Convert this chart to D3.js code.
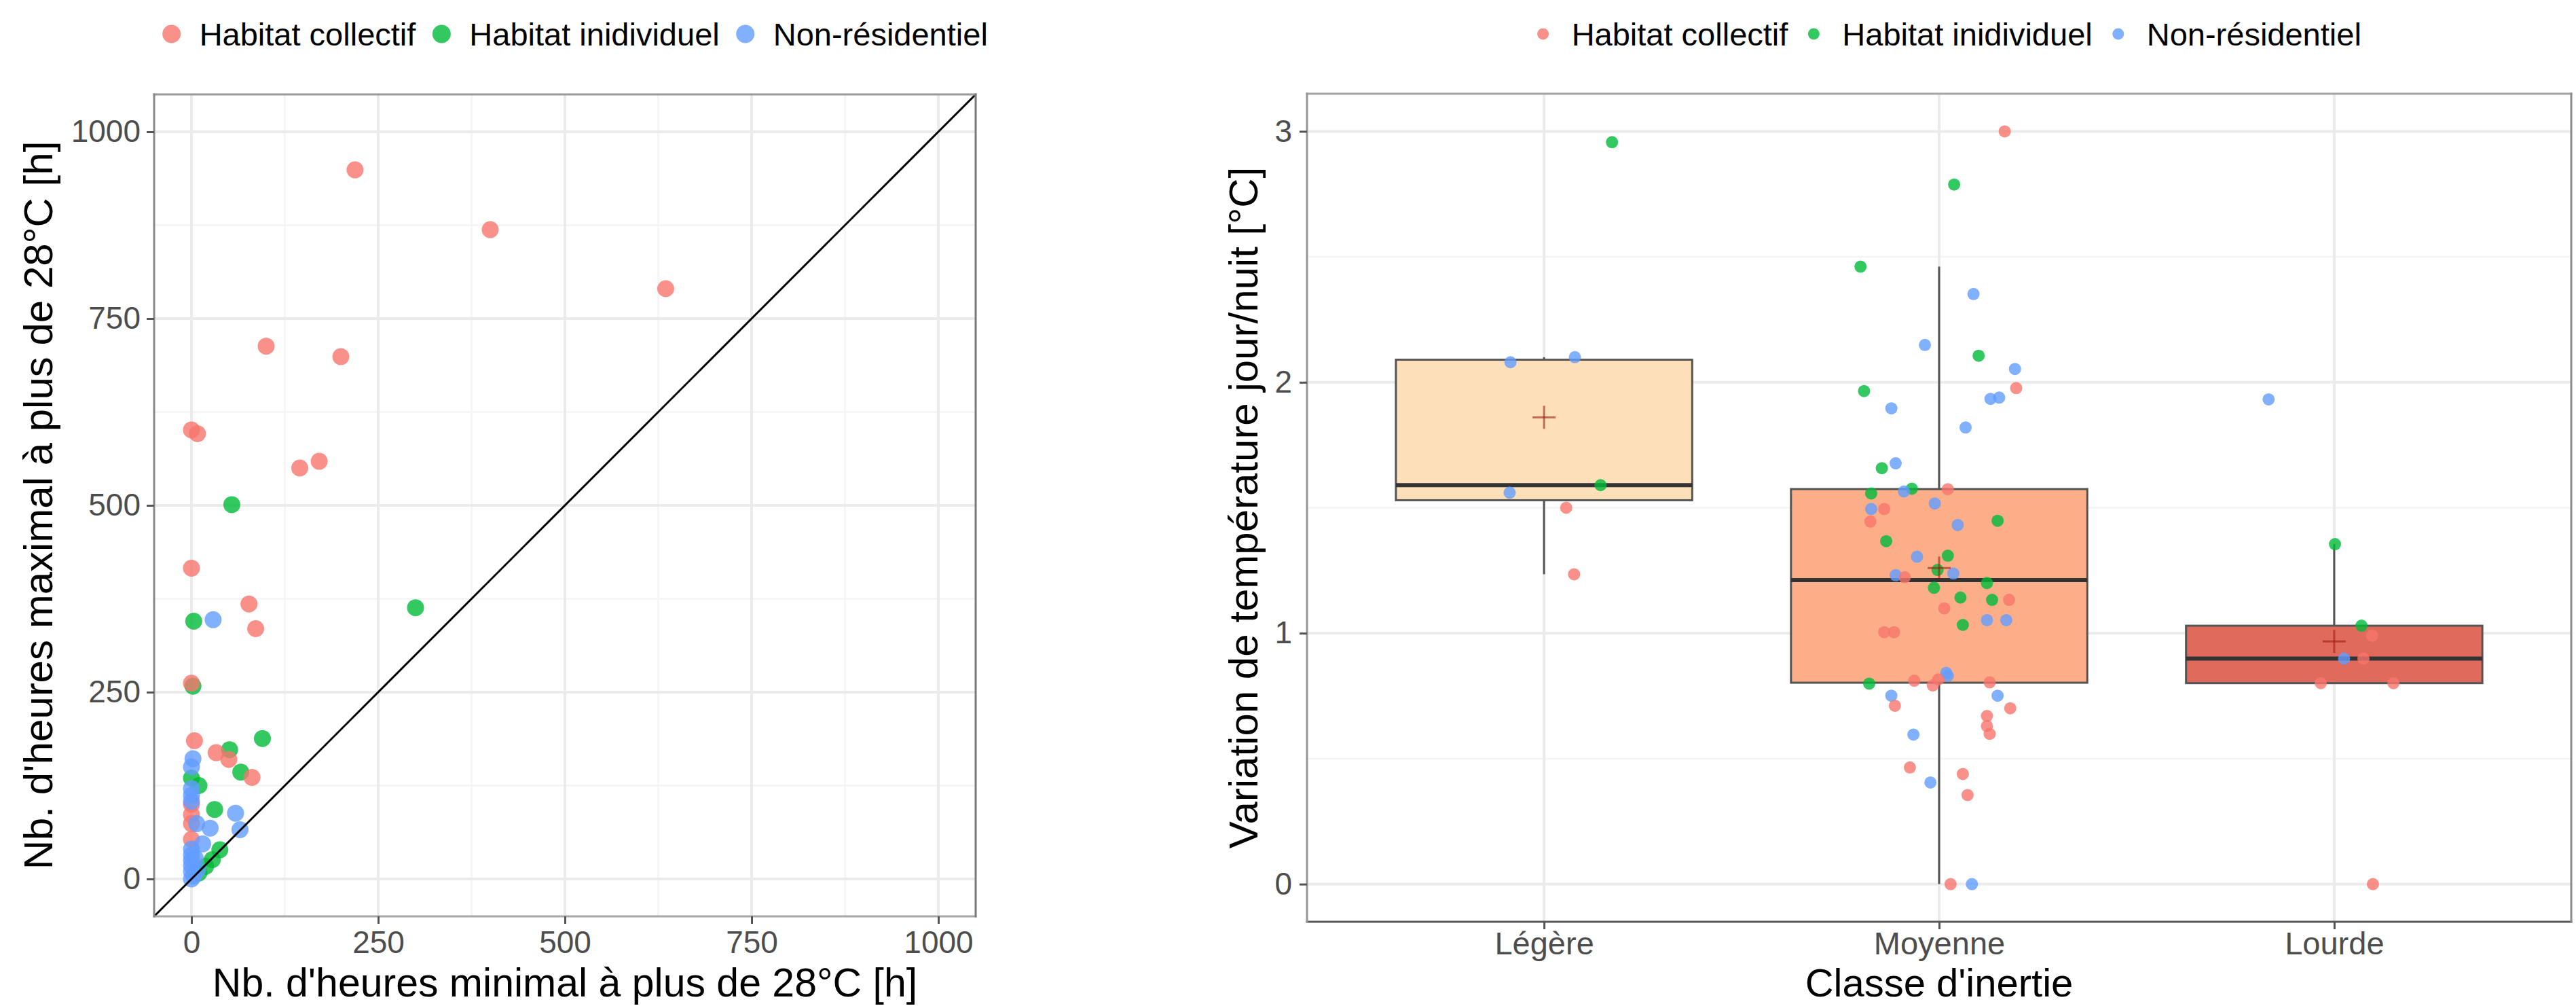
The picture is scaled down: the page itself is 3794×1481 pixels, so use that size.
<!DOCTYPE html>
<html>
<head>
<meta charset="utf-8">
<script src="https://cdn.jsdelivr.net/npm/d3@7"></script>
<style>
  body { margin: 0; background: #fff; }
  svg { display: block; }
  text { font-family: "Liberation Sans", Arial, Helvetica, sans-serif; }
</style>
</head>
<body>
<svg id="chart" width="3794" height="1481"></svg>
<script>
// ---- shared series ----
const seriesNames = ["Habitat collectif", "Habitat inidividuel", "Non-résidentiel"];
const seriesColors = ["#F8766D", "#00BA38", "#619CFF"];

// ---- left panel: hours above 28°C, [minimal, maximal] per building ----
const hoursCollectif = [
  [219, 949], [400, 869], [635, 790], [100, 713], [200, 699], [0, 601], [8, 596],
  [145, 550], [171, 559], [0, 416], [77, 368], [86, 335], [0, 262], [4, 185],
  [33, 169], [50, 160], [81, 136], [0, 100], [0, 86], [0, 74], [0, 53]
];
const hoursIndividuel = [
  [54, 501], [300, 363], [3, 345], [2, 258], [95, 188], [51, 173], [66, 143],
  [0, 135], [10, 125], [31, 93], [38, 39], [28, 26], [19, 17], [10, 8]
];
const hoursNonResidentiel = [
  [29, 347], [2, 161], [0, 150], [0, 121], [0, 112], [0, 104], [59, 88], [65, 66],
  [7, 74], [25, 68], [15, 47], [0, 40], [0, 32], [0, 25], [0, 18], [0, 10],
  [3, 4], [0, 0], [8, 12], [5, 28]
];
const hourTicks = [0, 250, 500, 750, 1000];
const hourMinor = [125, 375, 625, 875];

// ---- right panel: day/night temperature swing by inertia class ----
const inertiaClasses = ["Légère", "Moyenne", "Lourde"];
const boxFills = ["#fde0ba", "#fbae88", "#e06a5c"];

// type: 0 = collectif, 1 = individuel, 2 = non-résidentiel; jitter in category units
const swingLegere  = [2.957, 2.08, 2.10, 1.56, 1.59, 1.50, 1.235];
const typeLegere   = [1, 2, 2, 2, 1, 0, 0];
const jitterLegere = [0.172, -0.085, 0.078, -0.087, 0.143, 0.056, 0.076];

const swingMoyenne = [
  3.0, 2.788, 2.461, 2.352, 2.149, 2.106, 2.053, 1.977, 1.965, 1.934, 1.939, 1.896,
  1.82, 1.677, 1.658, 1.574, 1.576, 1.565, 1.557, 1.517, 1.495, 1.495, 1.445, 1.431,
  1.448, 1.367, 1.305, 1.309, 1.252, 1.231, 1.223, 1.238, 1.2, 1.181, 1.142, 1.133,
  1.133, 1.099, 1.052, 1.052, 1.033, 1.004, 1.004, 0.842, 0.83, 0.811, 0.816, 0.792,
  0.804, 0.799, 0.751, 0.751, 0.711, 0.701, 0.67, 0.63, 0.599, 0.596, 0.465, 0.439,
  0.405, 0.355, 0.0, 0.0
];
const typeMoyenne = [
  0, 1, 1, 2, 2, 1, 2, 0, 1, 2, 2, 2,
  2, 2, 1, 0, 1, 2, 1, 2, 2, 0, 0, 2,
  1, 1, 2, 1, 1, 2, 0, 2, 1, 1, 1, 1,
  0, 0, 2, 2, 1, 0, 0, 2, 2, 0, 0, 0,
  0, 1, 2, 2, 0, 0, 0, 0, 0, 2, 0, 0,
  2, 0, 0, 2
];
const jitterMoyenne = [
  0.166, 0.038, -0.199, 0.087, -0.036, 0.10, 0.192, 0.195, -0.19, 0.13, 0.152, -0.121,
  0.067, -0.11, -0.145, 0.022, -0.069, -0.089, -0.172, -0.011, -0.172, -0.139, -0.174, 0.047,
  0.148, -0.134, -0.056, 0.022, -0.004, -0.11, -0.087, 0.036, 0.121, -0.013, 0.054, 0.134,
  0.177, 0.013, 0.121, 0.17, 0.06, -0.139, -0.114, 0.018, 0.022, -0.063, -0.002, -0.016,
  0.128, -0.177, -0.121, 0.148, -0.112, 0.18, 0.121, 0.121, 0.128, -0.065, -0.074, 0.06,
  -0.022, 0.072, 0.029, 0.083
];

const swingLourde  = [1.932, 1.355, 1.03, 0.99, 0.899, 0.899, 0.801, 0.801, 0.0];
const typeLourde   = [2, 1, 1, 0, 0, 2, 0, 0, 0];
const jitterLourde = [-0.166, 0.002, 0.069, 0.096, 0.074, 0.025, -0.034, 0.15, 0.098];

const swingTicks = [0, 1, 2, 3];
const swingMinor = [0.5, 1.5, 2.5];

// ---- drawing ----
const svg = d3.select("#chart");
const gridMajor = "#ebebeb", gridMinor = "#f4f4f4";
const tickText = "#4d4d4d";

function panelBorder(x0, x1, y0, y1, cols) {
  const g = svg.append("g");
  g.append("line").attr("x1", x0).attr("x2", x1).attr("y1", y0).attr("y2", y0).attr("stroke", cols.top);
  g.append("line").attr("x1", x0).attr("x2", x1).attr("y1", y1).attr("y2", y1).attr("stroke", cols.bottom);
  g.append("line").attr("x1", x0).attr("x2", x0).attr("y1", y0).attr("y2", y1).attr("stroke", cols.left);
  g.append("line").attr("x1", x1).attr("x2", x1).attr("y1", y0).attr("y2", y1).attr("stroke", cols.right);
  g.selectAll("line").attr("stroke-width", 3).attr("stroke-linecap", "square");
}

function styleAxis(g, fontSize) {
  g.select(".domain").remove();
  g.selectAll(".tick line").attr("stroke", "#555").attr("stroke-width", 3);
  g.selectAll(".tick text").attr("fill", tickText).attr("font-size", fontSize);
}

function legend(cx, cy, r, gapText, gapNext, fontSize) {
  const g = svg.append("g");
  const items = seriesNames.map((name, i) => {
    const t = g.append("text").attr("font-size", fontSize).attr("fill", "#000").text(name);
    return { t, w: t.node().getComputedTextLength(), i };
  });
  const total = items.reduce((s, d, k) => s + 2 * r + (gapText - r) + d.w + (k < items.length - 1 ? gapNext - r : 0), 0);
  let x = cx - total / 2;
  items.forEach((d, k) => {
    const c = x + r;
    g.append("circle").attr("cx", c).attr("cy", cy).attr("r", r)
      .attr("fill", seriesColors[d.i]).attr("fill-opacity", 0.8);
    d.t.attr("x", c + gapText).attr("y", cy + 0.36 * fontSize);
    x = c + gapText + d.w + gapNext - r;
  });
}

// ===== Left panel: minimal vs maximal hours above 28°C =====
{
  const L = 227, R = 1437, T = 139, B = 1349;
  const x = d3.scaleLinear().domain([-50, 1050]).range([L, R]);
  const y = d3.scaleLinear().domain([-50, 1050]).range([B, T]);
  const grid = svg.append("g");
  hourMinor.forEach(v => {
    grid.append("line").attr("x1", x(v)).attr("x2", x(v)).attr("y1", T).attr("y2", B).attr("stroke", gridMinor).attr("stroke-width", 2.5);
    grid.append("line").attr("y1", y(v)).attr("y2", y(v)).attr("x1", L).attr("x2", R).attr("stroke", gridMinor).attr("stroke-width", 2.5);
  });
  hourTicks.forEach(v => {
    grid.append("line").attr("x1", x(v)).attr("x2", x(v)).attr("y1", T).attr("y2", B).attr("stroke", gridMajor).attr("stroke-width", 4);
    grid.append("line").attr("y1", y(v)).attr("y2", y(v)).attr("x1", L).attr("x2", R).attr("stroke", gridMajor).attr("stroke-width", 4);
  });

  const groups = [
    { data: hoursIndividuel, i: 1 },
    { data: hoursCollectif, i: 0 },
    { data: hoursNonResidentiel, i: 2 }
  ];
  const pts = svg.append("g");
  groups.forEach(gr => {
    pts.selectAll(null).data(gr.data).enter().append("circle")
      .attr("cx", d => x(d[0])).attr("cy", d => y(d[1])).attr("r", 12.5)
      .attr("fill", seriesColors[gr.i]).attr("fill-opacity", 0.8);
  });

  // identity line y = x
  const dom = x.domain();
  svg.append("line")
    .attr("x1", x(dom[0])).attr("y1", y(dom[0])).attr("x2", x(dom[1])).attr("y2", y(dom[1]))
    .attr("stroke", "#000").attr("stroke-width", 3);

  panelBorder(L, R, T, B, { top: "#9a9a9a", bottom: "#a8a8a8", left: "#8a8a8a", right: "#7a7a7a" });

  const ax = svg.append("g").attr("transform", `translate(0,${B})`)
    .call(d3.axisBottom(x).tickValues(hourTicks).tickFormat(d3.format("d")).tickSize(11).tickPadding(10));
  styleAxis(ax, 46);
  const ay = svg.append("g").attr("transform", `translate(${L},0)`)
    .call(d3.axisLeft(y).tickValues(hourTicks).tickFormat(d3.format("d")).tickSize(11).tickPadding(9));
  styleAxis(ay, 46);

  svg.append("text").attr("x", (L + R) / 2).attr("y", 1467).attr("text-anchor", "middle")
    .attr("font-size", 59).attr("fill", "#000").text("Nb. d'heures minimal à plus de 28°C [h]");
  svg.append("text").attr("transform", `translate(77,${(T + B) / 2}) rotate(-90)`).attr("text-anchor", "middle")
    .attr("font-size", 60).attr("fill", "#000").text("Nb. d'heures maximal à plus de 28°C [h]");

  legend(847, 50, 13.5, 41, 38, 47);
}

// ===== Right panel: day/night swing by inertia class =====
{
  const L = 1925, R = 3787, T = 138, B = 1357;
  const x = d3.scalePoint().domain(inertiaClasses).range([L, R]).padding(0.6);
  const unit = x.step();
  const y = d3.scaleLinear().domain([-0.15, 3.15]).range([B, T]);

  const grid = svg.append("g");
  swingMinor.forEach(v => {
    grid.append("line").attr("y1", y(v)).attr("y2", y(v)).attr("x1", L).attr("x2", R).attr("stroke", gridMinor).attr("stroke-width", 2.5);
  });
  swingTicks.forEach(v => {
    grid.append("line").attr("y1", y(v)).attr("y2", y(v)).attr("x1", L).attr("x2", R).attr("stroke", gridMajor).attr("stroke-width", 4);
  });
  inertiaClasses.forEach(c => {
    grid.append("line").attr("x1", x(c)).attr("x2", x(c)).attr("y1", T).attr("y2", B).attr("stroke", gridMajor).attr("stroke-width", 4);
  });

  const classData = [
    { name: inertiaClasses[0], v: swingLegere, t: typeLegere, j: jitterLegere, fill: boxFills[0] },
    { name: inertiaClasses[1], v: swingMoyenne, t: typeMoyenne, j: jitterMoyenne, fill: boxFills[1] },
    { name: inertiaClasses[2], v: swingLourde, t: typeLourde, j: jitterLourde, fill: boxFills[2] }
  ];

  const boxW = 0.75 * unit;
  classData.forEach(c => {
    const s = c.v.slice().sort(d3.ascending);
    const q1 = d3.quantile(s, 0.25), med = d3.quantile(s, 0.5), q3 = d3.quantile(s, 0.75);
    const iqr = q3 - q1;
    const lo = d3.min(s.filter(v => v >= q1 - 1.5 * iqr));
    const hi = d3.max(s.filter(v => v <= q3 + 1.5 * iqr));
    const cx = x(c.name);
    const g = svg.append("g");
    g.append("line").attr("x1", cx).attr("x2", cx).attr("y1", y(hi)).attr("y2", y(q3)).attr("stroke", "#555").attr("stroke-width", 3);
    g.append("line").attr("x1", cx).attr("x2", cx).attr("y1", y(q1)).attr("y2", y(lo)).attr("stroke", "#555").attr("stroke-width", 3);
    g.append("rect").attr("x", cx - boxW / 2).attr("width", boxW)
      .attr("y", y(q3)).attr("height", y(q1) - y(q3))
      .attr("fill", c.fill).attr("stroke", "#555").attr("stroke-width", 3);
    g.append("line").attr("x1", cx - boxW / 2).attr("x2", cx + boxW / 2).attr("y1", y(med)).attr("y2", y(med))
      .attr("stroke", "#333").attr("stroke-width", 6);
  });

  const pts = svg.append("g");
  classData.forEach(c => {
    c.v.forEach((v, k) => {
      pts.append("circle").attr("cx", x(c.name) + c.j[k] * unit).attr("cy", y(v)).attr("r", 9)
        .attr("fill", seriesColors[c.t[k]]).attr("fill-opacity", 0.8);
    });
  });

  // mean marker
  classData.forEach(c => {
    const m = d3.mean(c.v), cx = x(c.name), cy = y(m), h = 17;
    const g = svg.append("g").attr("stroke", "#a01a10").attr("stroke-opacity", 0.6).attr("stroke-width", 3);
    g.append("line").attr("x1", cx - h).attr("x2", cx + h).attr("y1", cy).attr("y2", cy);
    g.append("line").attr("x1", cx).attr("x2", cx).attr("y1", cy - h).attr("y2", cy + h);
  });

  panelBorder(L, R, T, B, { top: "#a3a3a3", bottom: "#5a5a5a", left: "#959595", right: "#8c8c8c" });

  const ax = svg.append("g").attr("transform", `translate(0,${B})`)
    .call(d3.axisBottom(x).tickSize(11).tickPadding(4));
  styleAxis(ax, 47);
  const ay = svg.append("g").attr("transform", `translate(${L},0)`)
    .call(d3.axisLeft(y).tickValues(swingTicks).tickFormat(d3.format("d")).tickSize(11).tickPadding(11));
  styleAxis(ay, 46);

  svg.append("text").attr("x", (L + R) / 2).attr("y", 1467).attr("text-anchor", "middle")
    .attr("font-size", 58).attr("fill", "#000").text("Classe d'inertie");
  svg.append("text").attr("transform", `translate(1852,${(T + B) / 2}) rotate(-90)`).attr("text-anchor", "middle")
    .attr("font-size", 60).attr("fill", "#000").text("Variation de température jour/nuit [°C]");

  legend(2871, 50, 8.5, 42, 38, 47);
}
</script>
</body>
</html>
